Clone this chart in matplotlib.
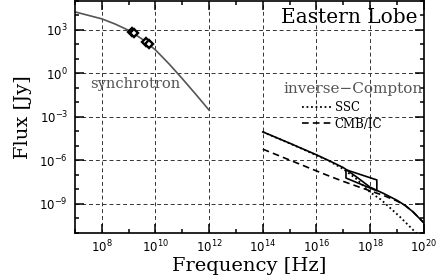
import matplotlib
matplotlib.use("Agg")
import matplotlib.pyplot as plt
import matplotlib.ticker as mticker
import numpy as np

# log10(frequency / Hz), log10(flux / Jy)
sync_lognu = [7.0, 7.5, 8.0, 8.5, 9.0, 9.5, 10.0, 10.5, 11.0, 11.5, 12.0]
sync_logf = [4.22, 3.98, 3.74, 3.38, 2.95, 2.35, 1.6, 0.65, -0.38, -1.45, -2.55]

radio_lognu = [9.12, 9.2, 9.66, 9.74]
radio_logf = [2.86, 2.74, 2.16, 2.04]

ic_lognu = [14.0, 15.0, 16.0, 16.5, 17.0, 17.5, 18.0, 18.5, 19.0, 19.3, 19.6, 20.0]
total_logf = [-4.04, -4.82, -5.62, -6.05, -6.5, -7.15, -7.85, -8.28, -8.75, -9.1, -9.55, -10.3]
cmb_logf = [-5.23, -5.98, -6.73, -7.1, -7.45, -7.78, -8.1, -8.42, -8.8, -9.1, -9.55, -10.3]
ssc_lognu = [14.0, 15.0, 16.0, 16.5, 17.0, 17.5, 18.0, 18.4, 19.1, 19.66, 19.75]
ssc_logf = [-4.05, -4.83, -5.65, -6.08, -6.6, -7.3, -8.2, -8.7, -9.87, -10.9, -11.05]

# X-ray bow tie: corners (log nu, log F)
bowtie_lognu = [17.1, 18.25, 18.25, 17.1, 17.1]
bowtie_logf = [-6.65, -7.35, -8.1, -7.22, -6.65]

serif = "DejaVu Serif"
plt.rcParams["mathtext.fontset"] = "dejavusans"

fig = plt.figure(figsize=(4.36, 2.77), dpi=100)
ax = fig.add_axes([0.172, 0.159, 0.8, 0.839])


def p10(v):
    return 10.0 ** np.asarray(v)


ax.plot(p10(sync_lognu), p10(sync_logf), color="#555555", lw=1.2)
ax.plot(p10(radio_lognu), p10(radio_logf), ls="none", marker="D", ms=4.2,
        mfc="white", mec="black", mew=1.7)
ax.plot(p10(ssc_lognu), p10(ssc_logf), color="black", lw=1.3, ls=(0, (1, 1.5)),
        label="SSC")
ax.plot(p10(ic_lognu), p10(cmb_logf), color="black", lw=1.2, ls=(0, (4, 2.5)),
        label="CMB/IC")
ax.plot(p10(ic_lognu), p10(total_logf), color="black", lw=1.2)
ax.plot(p10(bowtie_lognu), p10(bowtie_logf), color="black", lw=1.2)

ax.set_xscale("log")
ax.set_yscale("log")
ax.set_xlim(1e7, 1e20)
ax.set_ylim(1e-11, 1e5)

ax.xaxis.set_major_locator(mticker.FixedLocator(p10(np.arange(8, 21, 2))))
ax.xaxis.set_minor_locator(mticker.FixedLocator(p10(np.arange(7, 21, 2))))
ax.yaxis.set_major_locator(mticker.FixedLocator(p10(np.arange(-9, 4, 3))))
ax.yaxis.set_minor_locator(mticker.FixedLocator(p10(np.arange(-11, 6, 1))))
ax.xaxis.set_major_formatter(mticker.LogFormatterSciNotation())
ax.yaxis.set_major_formatter(mticker.LogFormatterSciNotation())
ax.xaxis.set_minor_formatter(mticker.NullFormatter())
ax.yaxis.set_minor_formatter(mticker.NullFormatter())

ax.tick_params(which="both", direction="in", top=True, right=True, width=1.1,
               labelsize=8.5)
ax.tick_params(which="major", length=6.5)
ax.tick_params(which="minor", length=3)
ax.tick_params(axis="x", pad=4)
ax.tick_params(axis="y", pad=5)
for sp in ax.spines.values():
    sp.set_linewidth(1.2)

ax.grid(which="major", color="#333333", lw=0.7, ls=(0, (4, 3)))

ax.set_xlabel("Frequency [Hz]", family=serif, fontsize=14, labelpad=1)
ax.set_ylabel("Flux [Jy]", family=serif, fontsize=14, labelpad=5)

ax.text(0.983, 0.925, "Eastern Lobe", transform=ax.transAxes, ha="right",
        va="center", family=serif, fontsize=14.5)
ax.text(0.043, 0.64, "synchrotron", transform=ax.transAxes, ha="left",
        va="center", family=serif, fontsize=10.5, color="#555555")
ax.text(0.997, 0.618, "inverse\u2212Compton", transform=ax.transAxes, ha="right",
        va="center", family=serif, fontsize=11, color="#555555")

leg = ax.legend(loc="center left", bbox_to_anchor=(0.65, 0.504), frameon=False,
                prop={"family": serif, "size": 8.5}, handlelength=2.55,
                handletextpad=0.25, labelspacing=0.3, borderpad=0,
                borderaxespad=0)

fig.savefig("out.png", dpi=100)
